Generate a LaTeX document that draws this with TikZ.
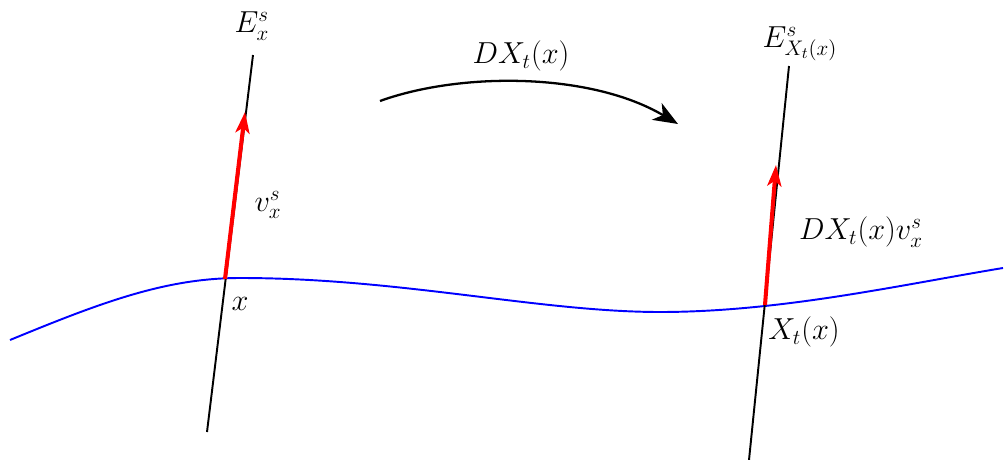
\documentclass[tikz,border=0pt]{standalone}
\usetikzlibrary{arrows.meta}
\begin{document}
\begin{tikzpicture}[x=0.02cm,y=-0.02cm,
  lbl/.style={font=\fontsize{17.5}{21}\selectfont, inner sep=1pt},
  fiber/.style={line width=1.1pt, black},
  vec/.style={line width=2.3pt, red, -{Stealth[length=12pt,width=8pt,inset=3pt]}},
  manifold/.style={line width=1.1pt, blue},
  mapar/.style={line width=1.3pt, -{Stealth[length=14pt,width=11pt,inset=4pt]}}]
\useasboundingbox (0,0) rectangle (1005,460);
% points
\coordinate (x) at (225,279);
\coordinate (Xt) at (765,305);
\coordinate (L0) at (207,432);
\coordinate (L1) at (253,55);
\coordinate (R0) at (749,460);
\coordinate (R1) at (789,66);
\coordinate (vL) at (245,112);
\coordinate (vR) at (776,165);
\coordinate (A0) at (380,101);
\coordinate (A1) at (678,124);
% manifold
\draw[manifold] (10,340) .. controls (100,303) and (165,278) .. (240,278)
  .. controls (400,278) and (540,312) .. (660,312)
  .. controls (780,312) and (900,285) .. (1003,268);
% fibers
\draw[fiber] (L0) -- (L1);
\draw[fiber] (R0) -- (R1);
% vectors
\draw[vec] (x) -- (vL);
\draw[vec] (Xt) -- (vR);
% map arrow
\draw[mapar] (A0) .. controls (460,72) and (590,72) .. (A1);
% labels
\node[lbl] (ELbl) at (252,26) {$E^s_x$};
\node[lbl] (vLbl) at (268,205) {$v^s_x$};
\node[lbl] (xLbl) at (240,304) {$x$};
\node[lbl] (ERbl) at (800,44) {$E^s_{X_t(x)}$};
\node[lbl] (vRbl) at (861,232) {$DX_t(x)v^s_x$};
\node[lbl] (xRbl) at (804,332) {$X_t(x)$};
\node[lbl] (mapLbl) at (521,56) {$DX_t(x)$};
\end{tikzpicture}
\end{document}
